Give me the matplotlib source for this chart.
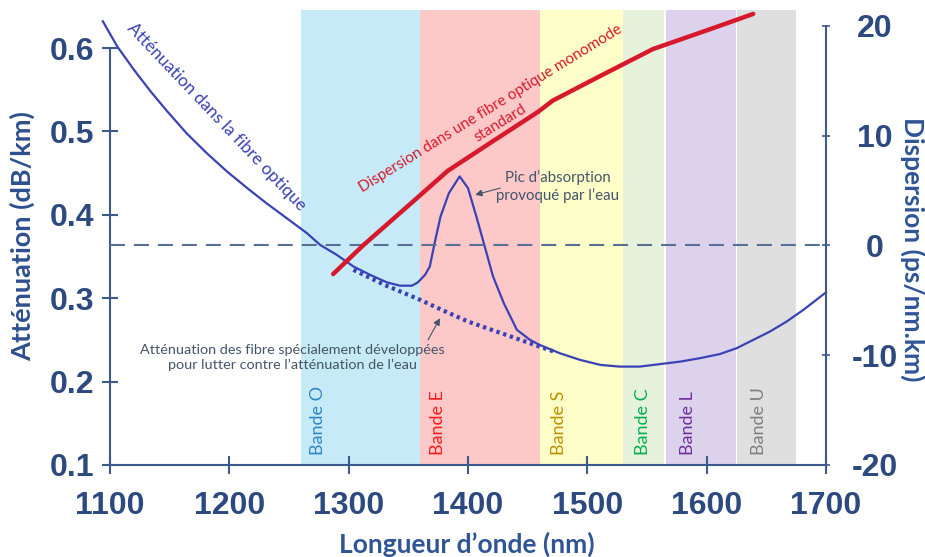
import matplotlib
matplotlib.use("Agg")
import matplotlib.pyplot as plt

# attenuation of a standard fibre (dB/km), solid curve
att_nm = [1094, 1106, 1120, 1134, 1148, 1164, 1181, 1198, 1215, 1231, 1248, 1265, 1276,
          1290, 1304, 1318, 1332, 1343, 1353, 1358, 1364, 1368, 1372, 1377, 1384, 1393,
          1400, 1407, 1414, 1421, 1430, 1441, 1452, 1460, 1477, 1494, 1511, 1527, 1544,
          1561, 1578, 1594, 1611, 1625, 1639, 1653, 1667, 1681, 1700]
att_db = [0.632, 0.602, 0.574, 0.548, 0.524, 0.498, 0.474, 0.452, 0.432, 0.414, 0.396, 0.378, 0.364,
          0.352, 0.338, 0.328, 0.319, 0.315, 0.315, 0.319, 0.328, 0.338, 0.366, 0.398, 0.426, 0.446,
          0.432, 0.398, 0.362, 0.326, 0.294, 0.262, 0.250, 0.244, 0.234, 0.226, 0.220, 0.218, 0.218,
          0.221, 0.224, 0.228, 0.233, 0.240, 0.250, 0.260, 0.272, 0.286, 0.307]

# low water peak fibre, dotted curve
lwp_nm = [1304, 1330, 1360, 1375, 1400, 1420, 1444, 1460, 1472]
lwp_db = [0.334, 0.316, 0.298, 0.288, 0.272, 0.262, 0.250, 0.242, 0.236]

# dispersion of a standard single mode fibre (ps/nm.km)
disp_nm = [1287, 1312, 1357, 1383, 1418, 1459, 1471, 1510, 1555, 1600, 1639]
disp_ps = [-2.6, 0.0, 4.3, 6.8, 9.3, 12.2, 13.2, 15.4, 17.9, 19.6, 21.1]

# bands
band_names = ["Bande O", "Bande E", "Bande S", "Bande C", "Bande L", "Bande U"]
band_start = [1260, 1360, 1460, 1530, 1565, 1625]
band_end = [1360, 1460, 1530, 1565, 1625, 1675]
band_label_x = [1274, 1375, 1476, 1547, 1584, 1644]
band_fill = ["#c6eaf8", "#fcc8c8", "#fefec8", "#e6f2dc", "#ddd2ec", "#dfdfdf"]
band_text = ["#2f86c6", "#ff1a1a", "#bf9000", "#00b050", "#7030a0", "#7f7f7f"]

x_ticks = [1100, 1200, 1300, 1400, 1500, 1600, 1700]
att_ticks = [0.1, 0.2, 0.3, 0.4, 0.5, 0.6]
att_labels = ["0.1", "0.2", "0.3", "0.4", "0.5", "0.6"]
disp_ticks = [-20, -10, 0, 10, 20]
disp_labels = ["-20", "-10", "0", "10", "20"]

W, H = 925, 557
axis_col = "#3d5a8a"
tick_col = "#2c4a80"
curve_col = "#3a42b5"
red = "#d7192c"
note_col = "#44546a"
txt_font = ["Lato", "DejaVu Sans"]

fig = plt.figure(figsize=(W / 100, H / 100), dpi=100)
ax = fig.add_axes([110 / W, (H - 465) / H, 716 / W, 455 / H])
ax2 = ax.twinx()

ax.set_xlim(1100, 1700)
ax.set_ylim(0.1, 0.1 + 455 / 834)
ax2.set_ylim(-20, -20 + 455 / 10.975)

for s, e, c in zip(band_start, band_end, band_fill):
    ax.axvspan(s, e, color=c, lw=0, zorder=0)
# thin white gap between C and L
ax.axvline(band_start[4], color="white", lw=1.5, zorder=1)
for name, x, c in zip(band_names, band_label_x, band_text):
    ax.text(x, 0.112, name, rotation=90, ha="center", va="bottom", color=c,
            fontsize=13, family=txt_font, zorder=3)

ax.plot(att_nm, att_db, color=curve_col, lw=1.6, zorder=4, clip_on=False)
ax.plot(lwp_nm, lwp_db, color=curve_col, lw=3, ls=(0, (0.8, 0.9)), zorder=4)
ax2.axhline(0, color="#5b6f96", lw=1.5, dashes=(7.2, 4.3), zorder=2)
ax2.plot(disp_nm, disp_ps, color=red, lw=3.2, zorder=5, clip_on=False, solid_capstyle="round")

# spines and ticks
for a in (ax, ax2):
    a.spines["top"].set_visible(False)
    for sp in a.spines.values():
        sp.set_color(axis_col)
        sp.set_linewidth(1.5)
ax.spines["right"].set_visible(False)
ax2.spines["left"].set_visible(False)
ax2.spines["bottom"].set_visible(False)
ax.spines["left"].set_bounds(0.1, 0.6)
ax2.spines["right"].set_bounds(-20, 20)

ax.set_xticks(x_ticks)
ax.set_yticks(att_ticks)
ax.set_yticklabels(att_labels)
ax2.set_yticks(disp_ticks)
ax2.set_yticklabels(disp_labels)
ax.tick_params(axis="x", direction="inout", length=13, width=1.5, color=axis_col, pad=12,
               labelsize=23, labelcolor=tick_col)
ax.tick_params(axis="y", direction="inout", length=12, width=1.5, color=axis_col, pad=5,
               labelsize=23, labelcolor=tick_col)
ax2.tick_params(axis="y", direction="inout", length=6, width=1.2, color=axis_col, pad=32,
                labelsize=23, labelcolor=tick_col)
for lab in ax.get_xticklabels() + ax.get_yticklabels() + ax2.get_yticklabels():
    lab.set_fontfamily("Liberation Sans")
    lab.set_fontweight("bold")
for lab in ax2.get_yticklabels():
    lab.set_horizontalalignment("center")

fig.text(22 / W, 1 - 236 / H, "Atténuation (dB/km)", rotation=90, ha="center", va="center",
         fontsize=19.5, fontweight="bold", color="#2e4f8f", family=txt_font)
fig.text(913 / W, 1 - 249 / H, "Dispersion (ps/nm.km)", rotation=-90, ha="center", va="center",
         fontsize=19, fontweight="bold", color="#2f5597", family=txt_font)
fig.text(467 / W, 1 - 544 / H, "Longueur d’onde (nm)", ha="center", va="center",
         fontsize=19, fontweight="bold", color="#2f5597", family=txt_font)

# notes
ax.text(1189, 0.517, "Atténuation dans la fibre optique", rotation=-46.5, rotation_mode="anchor",
        ha="center", va="center", color=curve_col, fontsize=12.5, family=txt_font, zorder=6)
ax.text(1423, 0.519, "Dispersion dans une fibre optique monomode\nstandard", rotation=31.7,
        rotation_mode="anchor", ha="center", va="center", color=red, fontsize=11,
        family=txt_font, linespacing=1.3, zorder=6)

ax.text(1475, 0.434, "Pic d’absorption\nprovoqué par l’eau", ha="center", va="center",
        color=note_col, fontsize=10.8, family=txt_font, linespacing=1.3, zorder=6)
ax.annotate("", xy=(1406, 0.424), xytext=(1427, 0.432),
            arrowprops=dict(arrowstyle="-|>", color=note_col, lw=0.8, mutation_scale=10,
                            shrinkA=0, shrinkB=0), zorder=6)

ax.text(1253, 0.229, "Atténuation des fibre spécialement développées\npour lutter contre l’atténuation de l’eau",
        ha="center", va="center", color=note_col, fontsize=10.4, family=txt_font,
        linespacing=1.3, zorder=6)
ax.annotate("", xy=(1376.5, 0.276), xytext=(1366.5, 0.25),
            arrowprops=dict(arrowstyle="-|>", color=note_col, lw=0.8, mutation_scale=10,
                            shrinkA=0, shrinkB=0), zorder=6)

fig.savefig("out.png", dpi=100)
